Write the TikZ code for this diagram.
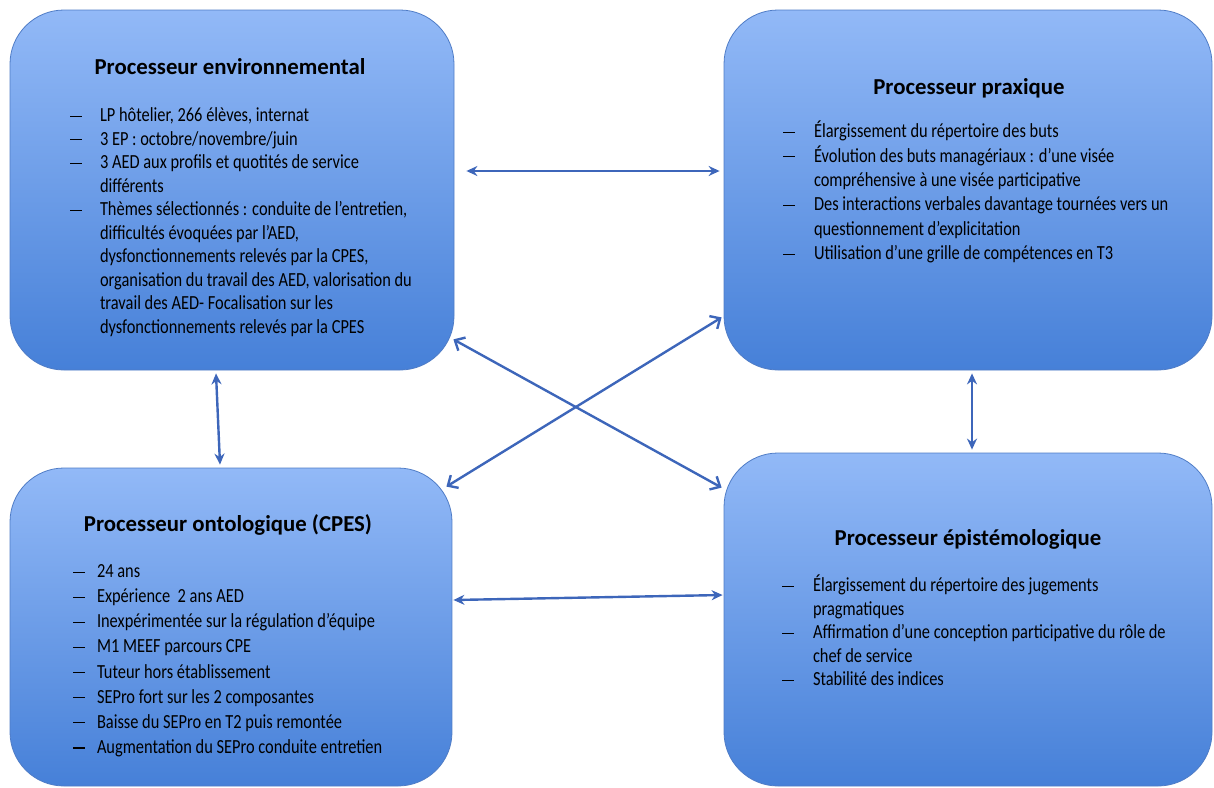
\documentclass[tikz,border=0pt]{standalone}
\usepackage{fontspec}
\usepackage{xcolor}
\usepackage{tikz}
\usetikzlibrary{calc, arrows.meta, positioning}
\setmainfont{Carlito}
\newfontfamily\bodyfont{Carlito}[FakeStretch=0.82]
\definecolor{boxtop}{HTML}{92B9F7}
\definecolor{boxmid}{HTML}{78A6EC}
\definecolor{boxbot}{HTML}{4680D8}
\definecolor{boxline}{HTML}{4F7CC6}
\definecolor{linkblue}{HTML}{3D66BA}
\newcommand{\itemdash}{\rule[2.4pt]{6pt}{0.6pt}}
\tikzset{
    procbox/.style = {draw=boxline, line width=0.4pt, rectangle, rounded corners=27pt, 
      top color=boxtop, middle color=boxmid, bottom color=boxbot, inner sep=0pt},
    titlenode/.style = {draw=none, fill=none, inner sep=0em, anchor=base, 
      font=\bfseries\fontsize{11.4}{13}\selectfont},
    listnode/.style = {draw=none, fill=none, inner sep=0em, anchor=base west, align=left},
    link/.style = {linkblue, line width=1.2pt, {Stealth[length=5.5pt,width=5pt]}-{Stealth[length=5.5pt,width=5pt]}},
    crosslink/.style = {linkblue, line width=1.2pt, {Straight Barb[length=4pt,width=7.5pt]}-{Straight Barb[length=4pt,width=7.5pt]}}
}

\begin{document}
\begin{tikzpicture}[x=0.5pt, y=-0.5pt]
    \useasboundingbox (0,0) rectangle (1214,787);

    \node [name=envbox, procbox, minimum width=222pt, minimum height=180pt] at (232,190) {};
    \node [name=praxbox, procbox, minimum width=244pt, minimum height=180pt] at (968,190) {};
    \node [name=ontobox, procbox, minimum width=221pt, minimum height=159pt] at (231,627) {};
    \node [name=epibox, procbox, minimum width=244pt, minimum height=166.5pt] at (968,619.5) {};

    \node [name=envtitle, titlenode] at ($(envbox.north)+(-2,65)$) {Processeur environnemental};
    \node [name=praxtitle, titlenode] at ($(praxbox.north)+(1,85)$) {Processeur praxique};
    \node [name=ontotitle, titlenode] at ($(ontobox.north)+(-3,64)$) {Processeur ontologique (CPES)};
    \node [name=epititle, titlenode] at ($(epibox.north)+(0,93)$) {Processeur épistémologique};

    \node [name=envlist, listnode, font=\bodyfont\fontsize{10}{11.75}\selectfont] 
        at ($(envbox.north west)+(60,112)$) {\begin{tabular}[t]{@{}p{15pt}@{}l@{}}
        \itemdash & LP hôtelier, 266 élèves, internat\\
        \itemdash & 3 EP : octobre/novembre/juin\\
        \itemdash & 3 AED aux profils et quotités de service\\
          & différents\\
        \itemdash & Thèmes sélectionnés : conduite de l’entretien,\\
          & difficultés évoquées par l’AED,\\
          & dysfonctionnements relevés par la CPES,\\
          & organisation du travail des AED, valorisation du\\
          & travail des AED- Focalisation sur les\\
          & dysfonctionnements relevés par la CPES
        \end{tabular}};

    \node [name=praxlist, listnode, font=\bodyfont\fontsize{10}{12.2}\selectfont] 
        at ($(praxbox.north west)+(59,128)$) {\begin{tabular}[t]{@{}p{15.5pt}@{}l@{}}
        \itemdash & Élargissement du répertoire des buts\\
        \itemdash & Évolution des buts managériaux : d’une visée\\
          & compréhensive à une visée participative\\
        \itemdash & Des interactions verbales davantage tournées vers un\\
          & questionnement d’explicitation\\
        \itemdash & Utilisation d’une grille de compétences en T3
        \end{tabular}};

    \node [name=ontolist, listnode, font=\bodyfont\fontsize{10}{12.55}\selectfont] 
        at ($(ontobox.north west)+(63,110)$) {\begin{tabular}[t]{@{}p{12pt}@{}l@{}}
        \itemdash & 24 ans\\
        \itemdash & Expérience \ 2 ans AED\\
        \itemdash & Inexpérimentée sur la régulation d’équipe\\
        \itemdash & M1 MEEF parcours CPE\\
        \itemdash & Tuteur hors établissement\\
        \itemdash & SEPro fort sur les 2 composantes\\
        \itemdash & Baisse du SEPro en T2 puis remontée\\
        \itemdash & Augmentation du SEPro conduite entretien
        \end{tabular}};

    \node [name=epilist, listnode, font=\bodyfont\fontsize{10}{11.75}\selectfont] 
        at ($(epibox.north west)+(58,139)$) {\begin{tabular}[t]{@{}p{15.5pt}@{}l@{}}
        \itemdash & Élargissement du répertoire des jugements\\
          & pragmatiques\\
        \itemdash & Affirmation d’une conception participative du rôle de\\
          & chef de service\\
        \itemdash & Stabilité des indices
        \end{tabular}};

    \draw [link] ($(envbox.east)+(12,-19)$) -- ($(praxbox.west)+(-4,-19)$);
    \draw [link] ($(ontobox.east)+(1,-27)$) -- ($(epibox.west)+(-1,-24.5)$);
    \draw [link] ($(envbox.south)+(-16,3)$) -- ($(ontobox.north)+(-11,-3)$);
    \draw [link] ($(praxbox.south)+(4,3)$) -- ($(epibox.north)+(4,-3)$);
    \draw [crosslink] ($(envbox.south east)+(-1,-31)$) -- ($(epibox.north west)+(-2,35)$);
    \draw [crosslink] ($(ontobox.north east)+(-6,19)$) -- ($(praxbox.south west)+(-2,-53)$);
\end{tikzpicture}
\end{document}
